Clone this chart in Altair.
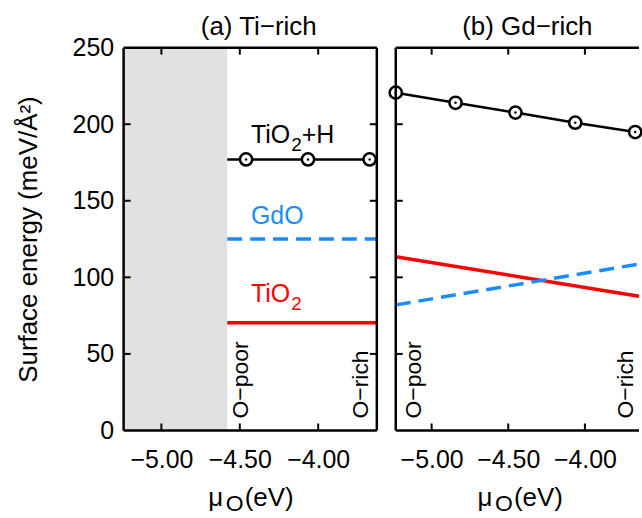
import altair as alt
import pandas as pd

FONT = "Liberation Sans"
RED = "#ff0000"
BLUE = "#1a8cff"
GREY = "#e1e1e1"

# ---------------- axis values ----------------
y_label_values = [0, 50, 100, 150, 200, 250]
y_tick_marks = [50, 100, 150, 200]
x_label_values = [-5.00, -4.50, -4.00]

# ---------------- panel (a) Ti-rich ----------------
a_domain = [-5.241, -3.626]
a_grey = [-5.241, -4.58]          # inaccessible region (shaded)
a_line_x = [-4.58, -3.626]
a_tio2h = [177.0, 177.0]
a_gdo = [125.0, 125.0]
a_tio2 = [70.3, 70.3]
a_marker_x = [-4.46, -4.065, -3.672]
a_marker_y = [177.0, 177.0, 177.0]
a_label_x = -4.429
a_label_y = {"TiO2+H": 188.0, "GdO": 134.8, "TiO2": 83.8}
a_limit_x = [-4.450, -3.684]       # "O-poor", "O-rich" text positions

# ---------------- panel (b) Gd-rich ----------------
b_domain = [-5.234, -3.647]
b_line_x = [-5.234, -3.647]
b_gdo = [82.0, 108.7]
b_tio2 = [113.5, 87.7]
b_marker_x = [-5.234, -4.844, -4.453, -4.063, -3.672]
b_marker_y = [220.6, 214.0, 207.6, 201.0, 194.9]
b_tio2h_x = [-5.234, -4.844, -4.453, -4.063, -3.672, -3.647]
b_tio2h_y = [220.6, 214.0, 207.6, 201.0, 194.9, 194.5]
b_limit_x = [-5.070, -3.683]

limit_text = ["O\u2212poor", "O\u2212rich"]
limit_y = 7.8

H = 384


def panel(W, xdom, center, grey, lines, markers, labels, limits_x,
          title_text, title_dx, left_labels, right_frame):
    xs = alt.Scale(domain=xdom, nice=False, zero=False)
    ys = alt.Scale(domain=[0, 250], nice=False, zero=False)
    xaxis = alt.Axis(values=x_label_values, format=".2f", ticks=False, domain=False,
                     grid=False, labelPadding=17, labelFontSize=25, labelFont=FONT,
                     labelColor="black", labelOverlap=False, labelFlush=False, title=None)
    if left_labels:
        yaxis = alt.Axis(values=y_label_values, ticks=False, domain=False, grid=False,
                         labelPadding=10, labelFontSize=25, labelFont=FONT,
                         labelColor="black", title="Surface energy (meV/\u00c5\u00b2)",
                         titleFontSize=26, titleFont=FONT, titleFontWeight="normal",
                         titleColor="black", titlePadding=31)
    else:
        yaxis = None

    def X(f="x"):
        return alt.X(f + ":Q", scale=xs, axis=xaxis)

    def Y(f="y"):
        return alt.Y(f + ":Q", scale=ys, axis=yaxis)

    layers = []
    if grey is not None:
        gdf = pd.DataFrame({"x": [grey[0]], "x2": [grey[1]], "y": [0], "y2": [250]})
        layers.append(alt.Chart(gdf).mark_rect(color=GREY).encode(
            x=X(), x2="x2", y=Y(), y2="y2"))

    # lines
    for (lx, ly, color, width, dash) in lines:
        ldf = pd.DataFrame({"x": lx, "y": ly})
        kw = dict(color=color, strokeWidth=width)
        if dash:
            kw["strokeDash"] = dash
        layers.append(alt.Chart(ldf).mark_line(**kw).encode(x=X(), y=Y()))

    # markers
    mdf = pd.DataFrame({"x": markers[0], "y": markers[1]})
    layers.append(alt.Chart(mdf).mark_circle(fill="white", stroke="black", strokeWidth=2.5,
                                             size=150, opacity=1, fillOpacity=1).encode(x=X(), y=Y()))
    layers.append(alt.Chart(mdf).mark_circle(color="black", size=6, opacity=1).encode(x=X(), y=Y()))

    # curve labels
    if labels is not None:
        main = pd.DataFrame({"x": [a_label_x] * 3,
                             "y": [labels["TiO2+H"], labels["GdO"], labels["TiO2"]],
                             "t": ["TiO", "GdO", "TiO"],
                             "c": ["black", BLUE, RED]})
        sub = pd.DataFrame({"x": [a_label_x] * 2,
                            "y": [labels["TiO2+H"], labels["TiO2"]],
                            "t": ["2", "2"], "c": ["black", RED]})
        tail = pd.DataFrame({"x": [a_label_x], "y": [labels["TiO2+H"]], "t": ["+H"], "c": ["black"]})
        for df, size, dx, dy in [(main, 25, 0, 0), (sub, 19, 40.5, 8), (tail, 25, 51, 0)]:
            layers.append(alt.Chart(df).mark_text(font=FONT, fontSize=size, align="left",
                                                  baseline="alphabetic", dx=dx, dy=dy).encode(
                x=X(), y=Y(), text="t:N", color=alt.Color("c:N", scale=None)))

    # O-poor / O-rich
    ldf = pd.DataFrame({"x": limits_x, "y": [limit_y, limit_y], "t": limit_text})
    layers.append(alt.Chart(ldf).mark_text(font=FONT, fontSize=23, angle=270, align="left",
                                           baseline="alphabetic", color="black").encode(
        x=X(), y=Y(), text="t:N"))

    # inward ticks
    xt = pd.DataFrame({"x": x_label_values})
    layers.append(alt.Chart(xt).mark_rule(color="black", strokeWidth=2).encode(
        x=X(), y=alt.value(H), y2=alt.value(H - 7)))
    layers.append(alt.Chart(xt).mark_rule(color="black", strokeWidth=2).encode(
        x=X(), y=alt.value(0), y2=alt.value(7)))
    yt = pd.DataFrame({"y": y_tick_marks})
    layers.append(alt.Chart(yt).mark_rule(color="black", strokeWidth=2).encode(
        y=Y(), x=alt.value(0), x2=alt.value(7)))
    if right_frame:
        layers.append(alt.Chart(yt).mark_rule(color="black", strokeWidth=2).encode(
            y=Y(), x=alt.value(W - 7), x2=alt.value(W)))

    # frame
    one = pd.DataFrame({"k": [0]})
    fkw = dict(color="black", strokeWidth=2.5)
    layers.append(alt.Chart(one).mark_rule(**fkw).encode(
        x=alt.value(0), x2=alt.value(W), y=alt.value(0)))
    layers.append(alt.Chart(one).mark_rule(**fkw).encode(
        x=alt.value(0), x2=alt.value(W), y=alt.value(H)))
    layers.append(alt.Chart(one).mark_rule(**fkw).encode(
        x=alt.value(0), y=alt.value(0), y2=alt.value(H)))
    if right_frame:
        layers.append(alt.Chart(one).mark_rule(**fkw).encode(
            x=alt.value(W), y=alt.value(0), y2=alt.value(H)))

    # panel title
    layers.append(alt.Chart(one).mark_text(font=FONT, fontSize=26, align="center",
                                           baseline="alphabetic", color="black",
                                           text=title_text).encode(
        x=alt.value(center + title_dx), y=alt.value(-12.5)))

    # x-axis title: mu_O (eV)
    for t, size, dxp, dyp in [("\u03bc", 26, -42, 76), ("O", 23, -24.5, 81), ("(eV)", 26, -5.5, 76)]:
        layers.append(alt.Chart(one).mark_text(font=FONT, fontSize=size, align="left",
                                               baseline="alphabetic", color="black", text=t).encode(
            x=alt.value(center + dxp), y=alt.value(H + dyp)))

    return alt.layer(*layers).properties(width=W, height=H)


pa = panel(254, a_domain, 127, a_grey,
           [(a_line_x, a_tio2h, "black", 2.5, None),
            (a_line_x, a_gdo, BLUE, 3.5, [15, 8]),
            (a_line_x, a_tio2, RED, 3.5, None)],
           (a_marker_x, a_marker_y), a_label_y, a_limit_x,
           "(a) Ti\u2212rich", 8.5, True, True)

pb = panel(244, b_domain, 124, None,
           [(b_tio2h_x, b_tio2h_y, "black", 2.5, None),
            (b_line_x, b_tio2, RED, 3.5, None),
            (b_line_x, b_gdo, BLUE, 3.5, [15, 8])],
           (b_marker_x, b_marker_y), None, b_limit_x,
           "(b) Gd\u2212rich", 8, False, False)

chart = alt.hconcat(pa, pb, spacing=19, bounds="flush").properties(
    padding={"left": 15, "top": 13, "right": -5, "bottom": -1}
).configure_view(stroke=None)

chart.save("out.html", embed_options={"renderer": "svg", "actions": False})
